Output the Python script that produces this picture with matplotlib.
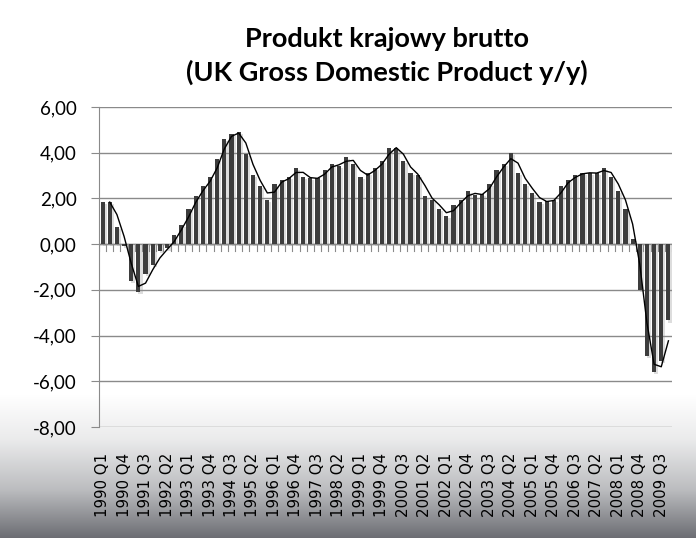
import numpy as np
import matplotlib.pyplot as plt
from matplotlib import patheffects as pe
from matplotlib.ticker import FuncFormatter

# kwartaly 1990 Q1 - 2009 Q4
years = list(range(1990, 2010))
quarters = ["%d Q%d" % (y, q) for y in years for q in range(1, 5)]

# PKB r/r [%]
gdp = [1.84, 1.84, 0.75, -0.07,
       -1.61, -2.09, -1.32, -0.92,
       -0.29, -0.19, 0.42, 0.83,
       1.54, 2.11, 2.55, 2.94,
       3.73, 4.61, 4.82, 4.90,
       3.95, 3.03, 2.55, 1.93,
       2.62, 2.80, 2.93, 3.34,
       2.94, 2.88, 2.88, 3.24,
       3.51, 3.43, 3.82, 3.51,
       2.94, 3.10, 3.34, 3.65,
       4.22, 4.22, 3.65, 3.10,
       3.03, 2.11, 1.92, 1.52,
       1.23, 1.70, 1.92, 2.31,
       2.13, 2.21, 2.64, 3.24,
       3.51, 3.97, 3.12, 2.64,
       2.24, 1.84, 1.89, 1.93,
       2.56, 2.81, 3.03, 3.12,
       3.12, 3.10, 3.34, 2.93,
       2.33, 1.54, 0.22, -1.99,
       -4.90, -5.61, -5.12, -3.34]

label_step = 3

gdp = np.array(gdp)
x = np.arange(len(gdp))
# srednia ruchoma 2 okresy (linia trendu)
ma = (gdp[1:] + gdp[:-1]) / 2

fig = plt.figure(figsize=(6.96, 5.38), dpi=100)

# tlo z gradientem na dole
bg = fig.add_axes([0, 0, 1, 1], zorder=-10)
rows = np.linspace(0, 538, 538)
stops_y = [0, 395, 440, 490, 538]
stops_v = [1.0, 1.0, 0.92, 0.74, 0.43]
v = np.interp(rows, stops_y, stops_v)
grad = np.stack([v * 0.98 + 0.02 * v**2, v, v * 0.96 + 0.04], axis=1)
grad = np.clip(grad, 0, 1)[:, None, :]
bg.imshow(grad, aspect='auto', extent=[0, 1, 0, 1])
bg.axis('off')

ax = fig.add_axes([99/696, 111/538, 573/696, 320/538])
ax.patch.set_alpha(0)

bars = ax.bar(x, gdp, width=0.58, color='#3d3d3d', zorder=3)
for b in bars:
    b.set_path_effects([pe.SimplePatchShadow(offset=(1.5, -1.5), shadow_rgbFace='#909090', alpha=0.3),
                        pe.Normal()])

ax.plot(x[1:], ma, color='black', lw=1.0, zorder=4)

ax.set_xlim(-0.5, len(gdp) - 0.5)
ax.set_ylim(-8, 6)
ax.set_yticks(np.arange(-8, 7, 2))
ax.yaxis.set_major_formatter(FuncFormatter(lambda v, p: ("%.2f" % v).replace('.', ',')))
ax.grid(axis='y', color='#8a8a8a', lw=1, zorder=1)

# os kategorii na zerze z kreskami
ax.axhline(0, color='#8a8a8a', lw=1, zorder=2)
for b in np.arange(-0.5, len(gdp), 1):
    ax.plot([b, b], [0, -0.3], color='#8a8a8a', lw=0.8, zorder=2)

ax.set_xticks(x[::label_step])
ax.set_xticklabels(quarters[::label_step], rotation=90, fontsize=10.8,
                   family='DejaVu Sans')
ax.tick_params(axis='x', length=0, pad=18.5)
ax.tick_params(axis='y', length=6, color='#8a8a8a', labelsize=13.5, pad=10)
for lab in ax.get_yticklabels():
    lab.set_family('Lato')

for s in ['top', 'right', 'bottom']:
    ax.spines[s].set_visible(False)
ax.spines['left'].set_color('#8a8a8a')

fig.text(0.556, 0.913, "Produkt krajowy brutto", ha='center', va='baseline',
         fontsize=19.5, family='Lato', weight='bold')
fig.text(0.556, 0.850, "(UK Gross Domestic Product y/y)", ha='center', va='baseline',
         fontsize=19.5, family='Lato', weight='bold')

fig.savefig("out.png", dpi=100)
